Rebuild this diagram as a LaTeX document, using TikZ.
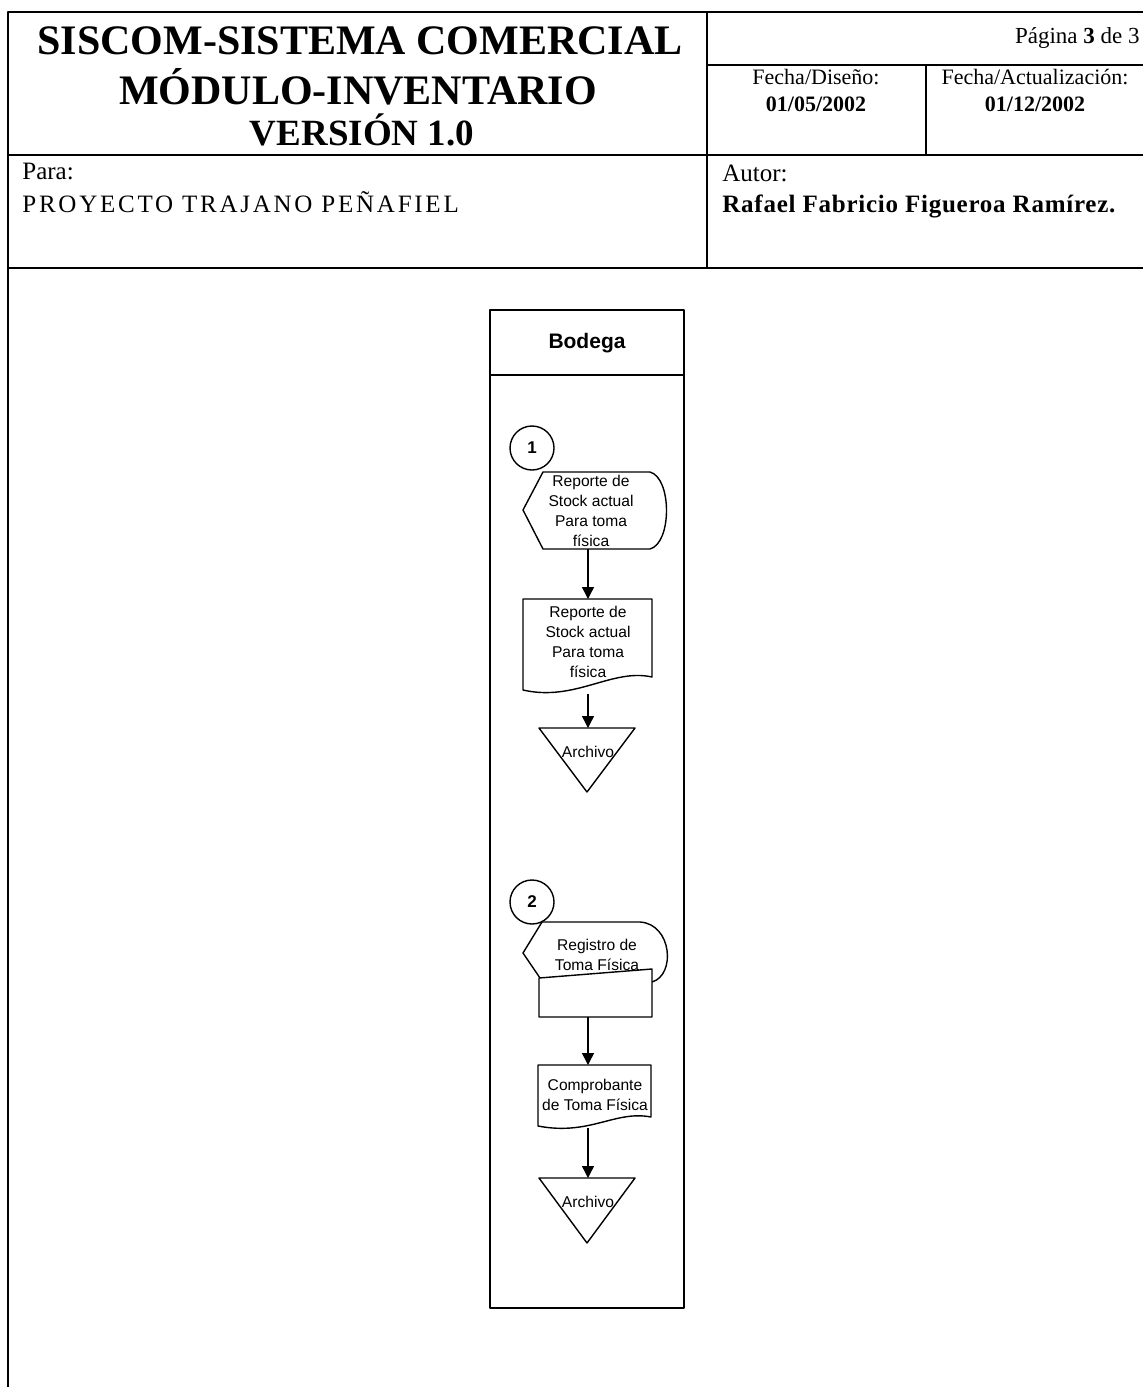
\documentclass[tikz,border=0pt]{standalone}
\usepackage{fontspec}
\setmainfont{Liberation Serif}
\setsansfont{Liberation Sans}
\usetikzlibrary{arrows.meta,positioning,calc}

\begin{document}
\begin{tikzpicture}[x=0.5pt,y=-0.5pt,line join=round,
  frame/.style={line width=1pt},
  ttl/.style={anchor=base,font=\bfseries\fontsize{21}{24}\selectfont},
  hd/.style={anchor=base,font=\fontsize{11}{13}\selectfont},
  fc/.style={line width=0.7pt},
  lbl/.style={font=\sffamily\fontsize{7.8}{10}\selectfont,align=center,inner sep=0pt},
  conn/.style={circle,draw,line width=0.7pt,minimum size=22pt,inner sep=0pt,font=\sffamily\bfseries\fontsize{8.5}{10}\selectfont},
  flow/.style={fc,-{Triangle[length=6pt,width=6pt]}}]
  \useasboundingbox (0,0) rectangle (1143,1387);
  % header
  \draw[frame] (1150,12) -- (8,12) -- (8,1395);
  \draw[frame] (8,155) -- (1150,155); \draw[frame] (8,268) -- (1150,268);
  \draw[frame] (707,12) -- (707,268); \draw[frame] (707,65) -- (1150,65); \draw[frame] (926,65) -- (926,155);
  \node[ttl] (tit1) at (360,54) {SISCOM-SISTEMA COMERCIAL};
  \node[ttl] (tit2) at (358,104) {MÓDULO-INVENTARIO};
  \node[ttl,font=\bfseries\fontsize{18.5}{22}\selectfont] (tit3) at (362,145) {VERSIÓN 1.0};
  \node[hd,anchor=base east,inner sep=0pt,font=\fontsize{11.5}{13}\selectfont] (pag) at (1140,43) {Página \textbf{3} de 3};
  \node[hd] (fdis) at (816,84) {Fecha/Diseño:};
  \node[hd,font=\bfseries\fontsize{11}{13}\selectfont] (fdisv) at (816,111) {01/05/2002};
  \node[hd] (fact) at (1035,84) {Fecha/Actualización:};
  \node[hd,font=\bfseries\fontsize{11}{13}\selectfont] (factv) at (1035,111) {01/12/2002};
  \node[anchor=base west,inner sep=0pt,font=\fontsize{12.5}{15}\selectfont] (para) at (22,179) {Para:};
  \node[anchor=base west,inner sep=0pt,font=\addfontfeatures{LetterSpace=11}\fontsize{12.5}{15}\selectfont] (proy) at (22,212) {PROYECTO TRAJANO PEÑAFIEL};
  \node[anchor=base west,inner sep=0pt,font=\fontsize{12.5}{15}\selectfont] (autor) at (722,181) {Autor:};
  \node[anchor=base west,inner sep=0pt,font=\bfseries\addfontfeatures{LetterSpace=3}\fontsize{12.5}{15}\selectfont] (nom) at (722,212) {Rafael Fabricio Figueroa Ramírez.};
  % lane
  \draw[fc] (490,310) rectangle (684,1308); \draw[fc] (490,375) -- (684,375);
  \node[font=\sffamily\bfseries\fontsize{10.5}{12}\selectfont] (lane) at (587,343) {Bodega};
  % part 1
  \node[conn] (c1) at (532,448) {1};
  \draw[fc] (523,510) -- (543,472) -- (650,472) .. controls (672,478) and (672,543) .. (650,549) -- (543,549) -- cycle;
  \node[lbl] (disp1) at (591,511) {Reporte de\\Stock actual\\Para toma\\física};
  \draw[fc] (523,599) -- (652,599) -- (652,677) .. controls (612,668) and (575,702) .. (523,690) -- cycle;
  \node[lbl] (doc1) at (588,642) {Reporte de\\Stock actual\\Para toma\\física};
  \draw[fc] (539,728) -- (635,728) -- (587,792) -- cycle;
  \node[lbl] (arch1) at (588,752) {Archivo};
  \coordinate (disp1s) at (588,549); \coordinate (doc1n) at (588,599);
  \coordinate (doc1s) at (588,694); \coordinate (arch1n) at (588,728);
  \draw[flow] (disp1s) -- (doc1n);
  \draw[flow] (doc1s) -- (arch1n);
  % part 2
  \node[conn] (c2) at (532,902) {2};
  \draw[fc] (540,978) -- (523,953) -- (542,922) -- (640,922) .. controls (672,924) and (676,975) .. (652,982);
  \draw[fc,fill=white] (539,978) -- (652,969) -- (652,1017) -- (539,1017) -- cycle;
  \node[lbl] (disp2) at (597,955) {Registro de\\Toma Física};
  \draw[fc] (538,1065) -- (651,1065) -- (651,1117) .. controls (615,1110) and (590,1136) .. (538,1126) -- cycle;
  \node[lbl] (doc2) at (595,1095) {Comprobante\\de Toma Física};
  \draw[fc] (539,1178) -- (635,1178) -- (587,1243) -- cycle;
  \node[lbl] (arch2) at (588,1202) {Archivo};
  \coordinate (man2s) at (588,1017); \coordinate (doc2n) at (588,1065);
  \coordinate (doc2s) at (588,1128); \coordinate (arch2n) at (588,1178);
  \draw[flow] (man2s) -- (doc2n);
  \draw[flow] (doc2s) -- (arch2n);
\end{tikzpicture}
\end{document}
